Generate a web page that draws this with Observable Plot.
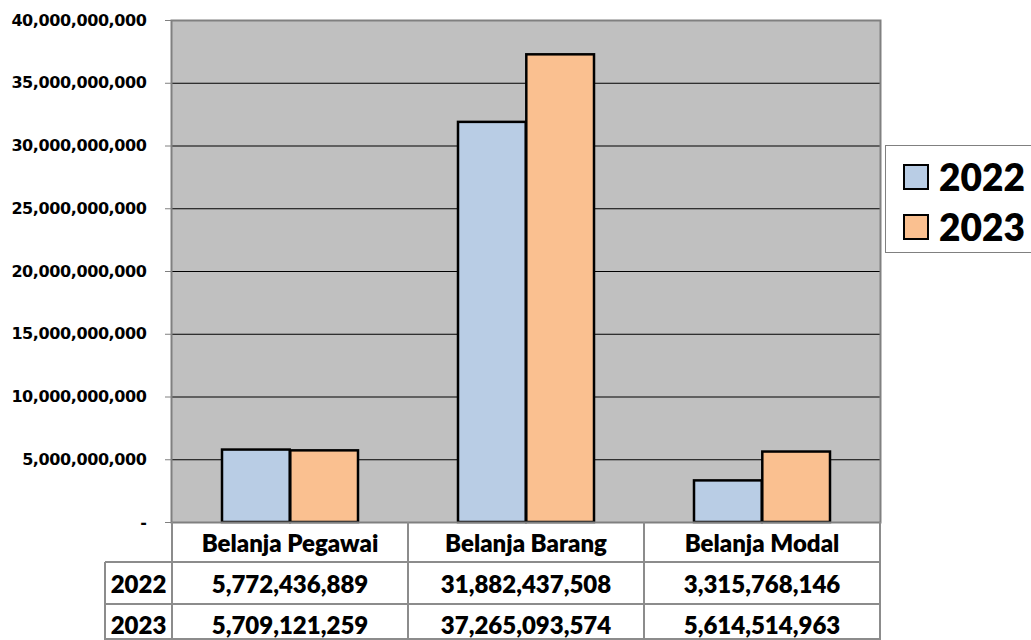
<!DOCTYPE html>
<html>
<head>
<meta charset="utf-8">
<script src="https://cdn.jsdelivr.net/npm/d3@7"></script>
<script src="https://cdn.jsdelivr.net/npm/@observablehq/plot@0.6"></script>
<style>
  html, body { margin: 0; padding: 0; background: #fff; overflow: hidden; }
  #wrap { position: relative; width: 1031px; height: 640px; overflow: hidden; }
  #wrap svg text { font-weight: 700; font-family: "DejaVu Sans", sans-serif; letter-spacing: -0.4px; }
  .cell { position: absolute; display: flex; align-items: center; justify-content: center;
          font-family: Lato, "Open Sans", sans-serif; font-weight: 800; font-size: 24px; color: #000; }
  .hl, .vl { position: absolute; background: #8c8c8c; }
  #legend { position: absolute; left: 885px; top: 145px; width: 170px; height: 106px;
            border: 1px solid #808080; background: #fff; font-family: Lato, sans-serif; font-weight: 800; }
  .li { position: absolute; left: 17px; display: flex; align-items: center; font-size: 37px; }
  .sw { width: 22px; height: 22px; border: 2px solid #000; margin-right: 10px; }
</style>
</head>
<body>
<div id="wrap"></div>
<script>
const categories = ["Belanja Pegawai", "Belanja Barang", "Belanja Modal"];
const years = ["2022", "2023"];
const values2022 = [5772436889, 31882437508, 3315768146];
const values2023 = [5709121259, 37265093574, 5614514963];
const yTicks = [0, 5e9, 10e9, 15e9, 20e9, 25e9, 30e9, 35e9, 40e9];
const colors = ["#B9CDE5", "#FAC090"];

const fmt = d3.format(",");
const tickFormat = d => d === 0 ? "-" : fmt(d);

const rows2022 = categories.map((c, i) => ({category: c, value: values2022[i]}));
const rows2023 = categories.map((c, i) => ({category: c, value: values2023[i]}));

const plot = Plot.plot({
  width: 1031,
  height: 640,
  marginLeft: 171,
  marginRight: 151,
  marginTop: 20,
  marginBottom: 118,
  style: {fontFamily: "'DejaVu Sans', sans-serif", fontWeight: "bold", fontSize: "16px", color: "#000", background: "#fff"},
  x: {domain: categories, padding: 0, axis: null},
  y: {domain: [0, 40e9], axis: null},
  marks: [
    Plot.frame({fill: "#C0C0C0", stroke: null}),
    Plot.gridY(yTicks.filter(t => t > 0 && t < 40e9), {stroke: "#000", strokeOpacity: 1, strokeWidth: 1}),
    Plot.barY(rows2022, {x: "category", y: "value", fill: colors[0], stroke: "#000", strokeWidth: 2.5, insetLeft: 50, insetRight: 118.3}),
    Plot.barY(rows2023, {x: "category", y: "value", fill: colors[1], stroke: "#000", strokeWidth: 2.5, insetLeft: 118.3, insetRight: 50}),
    Plot.frame({stroke: "#808080", strokeWidth: 2, fill: null}),
    Plot.axisY({ticks: yTicks, tickFormat, tickSize: 6, tickPadding: 19, stroke: "#808080", fill: "#000",
                fontSize: 16, label: null})
  ]
});

const wrap = document.getElementById("wrap");
wrap.appendChild(plot);

// table below the chart, aligned to the x scale bands
const xs = plot.scale("x");
const bw = xs.bandwidth;
const x0 = xs.apply(categories[0]);
const xEnd = xs.apply(categories[categories.length - 1]) + bw;
const yBottom = plot.scale("y").apply(0);
const rowH = [40, 42, 40];
const rowTop = [yBottom, yBottom + rowH[0], yBottom + rowH[0] + rowH[1]];
const labelLeft = 105;

function addDiv(cls, css, text) {
  const d = document.createElement("div");
  d.className = cls;
  Object.assign(d.style, css);
  if (text != null) d.textContent = text;
  wrap.appendChild(d);
  return d;
}

// cells
categories.forEach((c, i) => {
  const left = xs.apply(c);
  addDiv("cell", {left: left + "px", top: rowTop[0] + "px", width: bw + "px", height: rowH[0] + "px"}, c);
  addDiv("cell", {left: left + "px", top: rowTop[1] + "px", width: bw + "px", height: rowH[1] + "px"}, fmt(values2022[i]));
  addDiv("cell", {left: left + "px", top: rowTop[2] + "px", width: bw + "px", height: rowH[2] + "px"}, fmt(values2023[i]));
});
years.forEach((y, j) => {
  addDiv("cell", {left: labelLeft + "px", top: rowTop[j + 1] + "px", width: (x0 - labelLeft) + "px", height: rowH[j + 1] + "px"}, y);
});
// grid lines
addDiv("hl", {left: labelLeft + "px", top: (rowTop[1] - 1) + "px", width: (xEnd - labelLeft) + "px", height: "2px"});
addDiv("hl", {left: labelLeft + "px", top: (rowTop[2] - 1) + "px", width: (xEnd - labelLeft) + "px", height: "2px"});
addDiv("hl", {left: labelLeft + "px", top: "638px", width: (xEnd - labelLeft) + "px", height: "2px"});
addDiv("vl", {left: (labelLeft - 1) + "px", top: rowTop[1] + "px", width: "2px", height: (640 - rowTop[1]) + "px"});
categories.forEach(c => {
  addDiv("vl", {left: (xs.apply(c) - 1) + "px", top: yBottom + "px", width: "2px", height: (640 - yBottom) + "px"});
});
addDiv("vl", {left: (xEnd - 1) + "px", top: yBottom + "px", width: "2px", height: (640 - yBottom) + "px"});

// legend
const legend = addDiv("", {}, null);
legend.id = "legend";
years.forEach((y, j) => {
  const item = document.createElement("div");
  item.className = "li";
  item.style.top = (j === 0 ? 8 : 58) + "px";
  const sw = document.createElement("div");
  sw.className = "sw";
  sw.style.background = colors[j];
  const t = document.createElement("span");
  t.textContent = y;
  item.appendChild(sw);
  item.appendChild(t);
  legend.appendChild(item);
});
</script>
</body>
</html>
